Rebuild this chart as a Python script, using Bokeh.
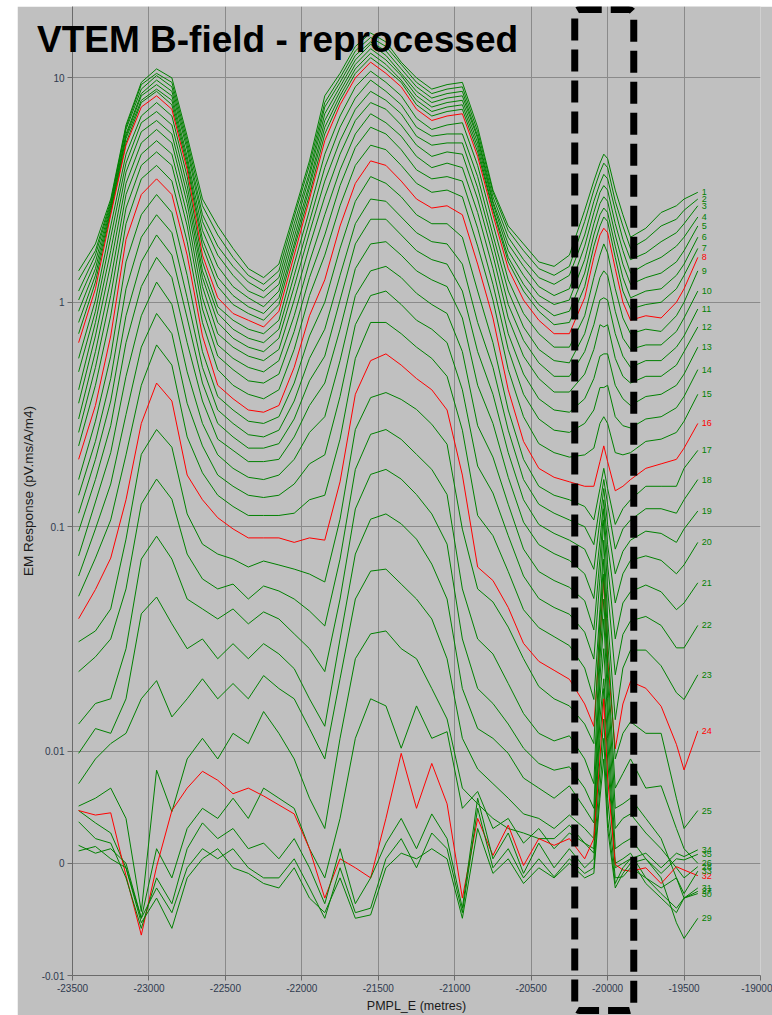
import numpy as np
from bokeh.plotting import figure
from bokeh.layouts import column
from bokeh.models import Range1d, FixedTicker, BoxAnnotation, ColumnDataSource, Div
from bokeh.core.properties import value
from bokeh.embed import file_html
from bokeh.resources import INLINE

# Easting of the sampled stations (PMPL_E, metres)
X_M = [-23460, -23350, -23250, -23150, -23050, -22950, -22850, -22750, -22650, -22550,
       -22450, -22350, -22250, -22150, -22050, -21950, -21850, -21750, -21650, -21550,
       -21450, -21350, -21250, -21150, -21050, -20950, -20850, -20750, -20650, -20550,
       -20450, -20350, -20250, -20150, -20090, -20050, -20025, -20000, -19950, -19900,
       -19850, -19750, -19650, -19550, -19500, -19410]

# Channels 1-24: log10 of EM response (pV.ms/A/m4)
LOG_CH01 = [0.14, 0.26, 0.46, 0.79, 0.98, 1.04, 1.00, 0.74, 0.46, 0.34, 0.24, 0.15, 0.11, 0.17, 0.40, 0.63, 0.92, 1.02, 1.14, 1.20, 1.16, 1.07, 1.00, 0.95, 0.97, 0.98, 0.78, 0.50, 0.34, 0.26, 0.18, 0.16, 0.21, 0.41, 0.54, 0.62, 0.66, 0.64, 0.50, 0.39, 0.29, 0.33, 0.40, 0.43, 0.46, 0.49]
LOG_CH02 = [0.10, 0.23, 0.45, 0.78, 0.97, 1.02, 0.98, 0.72, 0.43, 0.30, 0.20, 0.12, 0.08, 0.14, 0.38, 0.61, 0.89, 1.00, 1.12, 1.18, 1.14, 1.06, 0.98, 0.93, 0.95, 0.96, 0.76, 0.49, 0.32, 0.23, 0.15, 0.12, 0.16, 0.36, 0.50, 0.58, 0.62, 0.60, 0.45, 0.34, 0.24, 0.28, 0.34, 0.37, 0.41, 0.46]
LOG_CH03 = [0.05, 0.21, 0.44, 0.77, 0.95, 1.01, 0.96, 0.70, 0.39, 0.25, 0.16, 0.09, 0.05, 0.11, 0.35, 0.58, 0.87, 0.98, 1.10, 1.16, 1.12, 1.04, 0.96, 0.91, 0.93, 0.94, 0.74, 0.47, 0.29, 0.19, 0.11, 0.08, 0.12, 0.30, 0.45, 0.53, 0.57, 0.55, 0.41, 0.28, 0.19, 0.22, 0.27, 0.31, 0.35, 0.43]
LOG_CH04 = [0.01, 0.18, 0.43, 0.75, 0.93, 0.99, 0.94, 0.68, 0.36, 0.21, 0.12, 0.05, 0.02, 0.08, 0.32, 0.56, 0.84, 0.96, 1.08, 1.15, 1.10, 1.02, 0.94, 0.89, 0.91, 0.92, 0.73, 0.45, 0.26, 0.16, 0.07, 0.03, 0.06, 0.25, 0.40, 0.49, 0.52, 0.50, 0.35, 0.23, 0.13, 0.17, 0.20, 0.25, 0.29, 0.38]
LOG_CH05 = [-0.04, 0.15, 0.42, 0.74, 0.92, 0.97, 0.92, 0.65, 0.32, 0.16, 0.07, 0.02, -0.02, 0.05, 0.29, 0.53, 0.81, 0.94, 1.06, 1.13, 1.08, 1.01, 0.92, 0.87, 0.89, 0.90, 0.71, 0.44, 0.23, 0.12, 0.03, -0.01, 0.01, 0.19, 0.35, 0.44, 0.47, 0.45, 0.30, 0.17, 0.08, 0.11, 0.13, 0.18, 0.23, 0.34]
LOG_CH06 = [-0.09, 0.12, 0.41, 0.73, 0.90, 0.95, 0.90, 0.63, 0.28, 0.11, 0.03, -0.02, -0.05, 0.02, 0.26, 0.51, 0.78, 0.92, 1.04, 1.11, 1.06, 0.99, 0.90, 0.85, 0.87, 0.88, 0.69, 0.42, 0.20, 0.08, -0.01, -0.06, -0.04, 0.13, 0.30, 0.39, 0.42, 0.40, 0.25, 0.11, 0.02, 0.05, 0.06, 0.12, 0.17, 0.29]
LOG_CH07 = [-0.14, 0.09, 0.40, 0.71, 0.89, 0.94, 0.88, 0.61, 0.25, 0.07, -0.01, -0.05, -0.08, -0.01, 0.24, 0.48, 0.75, 0.90, 1.02, 1.09, 1.04, 0.98, 0.88, 0.83, 0.85, 0.86, 0.67, 0.41, 0.18, 0.05, -0.04, -0.10, -0.09, 0.07, 0.25, 0.34, 0.38, 0.36, 0.20, 0.05, -0.03, -0.01, 0.00, 0.06, 0.12, 0.24]
LOG_CH08 = [-0.18, 0.06, 0.39, 0.70, 0.87, 0.92, 0.86, 0.59, 0.21, 0.02, -0.05, -0.08, -0.11, -0.04, 0.21, 0.46, 0.72, 0.88, 1.00, 1.07, 1.02, 0.96, 0.86, 0.81, 0.83, 0.84, 0.65, 0.39, 0.15, 0.01, -0.08, -0.14, -0.14, 0.02, 0.20, 0.30, 0.33, 0.31, 0.15, 0.00, -0.08, -0.06, -0.07, 0.00, 0.06, 0.20]
LOG_CH09 = [-0.25, 0.01, 0.34, 0.66, 0.83, 0.89, 0.83, 0.56, 0.18, -0.02, -0.08, -0.12, -0.14, -0.08, 0.17, 0.41, 0.66, 0.83, 0.96, 1.03, 0.98, 0.92, 0.82, 0.77, 0.79, 0.80, 0.61, 0.35, 0.10, -0.05, -0.14, -0.20, -0.20, -0.06, 0.11, 0.21, 0.26, 0.22, 0.06, -0.07, -0.14, -0.12, -0.13, -0.06, 0.00, 0.14]
LOG_CH10 = [-0.31, -0.04, 0.29, 0.62, 0.80, 0.85, 0.79, 0.52, 0.14, -0.05, -0.12, -0.16, -0.18, -0.12, 0.12, 0.36, 0.60, 0.78, 0.91, 0.99, 0.94, 0.88, 0.78, 0.74, 0.75, 0.75, 0.56, 0.30, 0.05, -0.11, -0.21, -0.26, -0.27, -0.14, 0.01, 0.11, 0.14, 0.12, -0.04, -0.16, -0.21, -0.19, -0.19, -0.13, -0.07, 0.05]
LOG_CH11 = [-0.39, -0.09, 0.23, 0.58, 0.76, 0.81, 0.75, 0.48, 0.11, -0.09, -0.16, -0.20, -0.22, -0.16, 0.07, 0.31, 0.54, 0.72, 0.86, 0.94, 0.90, 0.84, 0.74, 0.70, 0.71, 0.71, 0.51, 0.26, -0.01, -0.17, -0.27, -0.33, -0.33, -0.22, -0.10, 0.01, 0.02, 0.01, -0.14, -0.24, -0.29, -0.26, -0.26, -0.20, -0.15, -0.03]
LOG_CH12 = [-0.45, -0.15, 0.17, 0.53, 0.71, 0.77, 0.71, 0.44, 0.07, -0.14, -0.20, -0.24, -0.26, -0.21, 0.01, 0.25, 0.47, 0.66, 0.81, 0.89, 0.86, 0.79, 0.70, 0.65, 0.67, 0.66, 0.46, 0.21, -0.07, -0.24, -0.34, -0.40, -0.40, -0.32, -0.21, -0.10, -0.11, -0.10, -0.25, -0.33, -0.36, -0.33, -0.33, -0.28, -0.22, -0.11]
LOG_CH13 = [-0.52, -0.22, 0.10, 0.48, 0.66, 0.72, 0.66, 0.39, 0.02, -0.19, -0.25, -0.29, -0.31, -0.26, -0.06, 0.18, 0.39, 0.59, 0.75, 0.84, 0.80, 0.74, 0.65, 0.60, 0.62, 0.60, 0.40, 0.15, -0.14, -0.32, -0.43, -0.48, -0.49, -0.43, -0.34, -0.24, -0.23, -0.23, -0.37, -0.43, -0.46, -0.42, -0.41, -0.37, -0.32, -0.20]
LOG_CH14 = [-0.58, -0.29, 0.03, 0.42, 0.61, 0.67, 0.61, 0.34, -0.03, -0.24, -0.30, -0.35, -0.36, -0.32, -0.13, 0.11, 0.30, 0.52, 0.69, 0.78, 0.75, 0.68, 0.59, 0.55, 0.56, 0.54, 0.33, 0.08, -0.21, -0.41, -0.52, -0.57, -0.58, -0.54, -0.48, -0.38, -0.38, -0.37, -0.51, -0.55, -0.56, -0.52, -0.51, -0.47, -0.42, -0.30]
LOG_CH15 = [-0.64, -0.37, -0.06, 0.35, 0.55, 0.61, 0.54, 0.27, -0.09, -0.30, -0.37, -0.41, -0.43, -0.39, -0.21, 0.03, 0.21, 0.43, 0.61, 0.70, 0.68, 0.61, 0.53, 0.49, 0.50, 0.47, 0.25, 0.01, -0.30, -0.51, -0.63, -0.67, -0.69, -0.68, -0.65, -0.54, -0.51, -0.54, -0.67, -0.68, -0.67, -0.62, -0.61, -0.58, -0.53, -0.41]
LOG_CH16 = [-0.70, -0.46, -0.15, 0.28, 0.48, 0.55, 0.48, 0.21, -0.15, -0.37, -0.43, -0.48, -0.49, -0.46, -0.29, -0.06, 0.10, 0.34, 0.53, 0.63, 0.61, 0.54, 0.46, 0.42, 0.43, 0.39, 0.17, -0.07, -0.39, -0.62, -0.74, -0.78, -0.80, -0.82, -0.82, -0.71, -0.64, -0.71, -0.84, -0.82, -0.79, -0.74, -0.72, -0.70, -0.65, -0.54]
LOG_CH17 = [-0.79, -0.53, -0.24, 0.18, 0.39, 0.48, 0.40, 0.12, -0.22, -0.42, -0.48, -0.53, -0.54, -0.51, -0.36, -0.15, 0.00, 0.24, 0.45, 0.56, 0.53, 0.47, 0.39, 0.35, 0.35, 0.29, 0.05, -0.18, -0.48, -0.70, -0.82, -0.86, -0.88, -0.91, -0.97, -0.83, -0.74, -0.83, -0.99, -0.92, -0.88, -0.82, -0.82, -0.82, -0.74, -0.66]
LOG_CH18 = [-0.86, -0.62, -0.34, 0.06, 0.29, 0.39, 0.31, 0.02, -0.29, -0.48, -0.54, -0.59, -0.60, -0.57, -0.44, -0.25, -0.12, 0.12, 0.35, 0.46, 0.45, 0.38, 0.31, 0.27, 0.26, 0.17, -0.09, -0.29, -0.57, -0.79, -0.90, -0.94, -0.97, -1.00, -1.08, -0.90, -0.79, -0.90, -1.10, -1.01, -0.97, -0.92, -0.92, -0.94, -0.88, -0.79]
LOG_CH19 = [-0.94, -0.70, -0.44, -0.06, 0.18, 0.30, 0.21, -0.07, -0.36, -0.54, -0.60, -0.65, -0.65, -0.63, -0.52, -0.35, -0.24, 0.01, 0.26, 0.37, 0.37, 0.30, 0.23, 0.19, 0.17, 0.05, -0.22, -0.41, -0.67, -0.88, -0.99, -1.03, -1.06, -1.10, -1.19, -0.97, -0.83, -0.99, -1.21, -1.11, -1.06, -1.02, -1.03, -1.07, -1.01, -0.93]
LOG_CH20 = [-1.02, -0.79, -0.55, -0.18, 0.07, 0.20, 0.11, -0.18, -0.44, -0.61, -0.66, -0.71, -0.71, -0.70, -0.60, -0.46, -0.36, -0.12, 0.15, 0.26, 0.27, 0.21, 0.14, 0.10, 0.07, -0.07, -0.37, -0.54, -0.78, -0.98, -1.08, -1.12, -1.15, -1.21, -1.32, -1.06, -0.88, -1.08, -1.34, -1.21, -1.15, -1.13, -1.15, -1.21, -1.17, -1.07]
LOG_CH21 = [-1.13, -0.89, -0.67, -0.33, -0.06, 0.09, -0.01, -0.31, -0.54, -0.68, -0.74, -0.78, -0.79, -0.77, -0.70, -0.58, -0.51, -0.26, 0.03, 0.14, 0.16, 0.11, 0.04, -0.01, -0.05, -0.22, -0.55, -0.69, -0.90, -1.10, -1.20, -1.24, -1.27, -1.33, -1.46, -1.14, -0.92, -1.17, -1.50, -1.34, -1.29, -1.26, -1.29, -1.37, -1.34, -1.25]
LOG_CH22 = [-1.22, -1.01, -0.81, -0.50, -0.20, -0.05, -0.14, -0.45, -0.64, -0.77, -0.82, -0.86, -0.87, -0.86, -0.81, -0.72, -0.68, -0.42, -0.10, 0.03, 0.05, -0.01, -0.08, -0.12, -0.18, -0.39, -0.73, -0.85, -1.04, -1.22, -1.32, -1.36, -1.39, -1.47, -1.59, -1.23, -0.97, -1.28, -1.66, -1.48, -1.42, -1.40, -1.44, -1.54, -1.54, -1.44]
LOG_CH23 = [-1.31, -1.14, -0.97, -0.68, -0.37, -0.19, -0.28, -0.60, -0.76, -0.86, -0.91, -0.95, -0.95, -0.95, -0.94, -0.88, -0.86, -0.61, -0.25, -0.09, -0.09, -0.14, -0.20, -0.25, -0.33, -0.57, -0.95, -1.04, -1.20, -1.37, -1.45, -1.49, -1.53, -1.63, -1.77, -1.37, -1.06, -1.41, -1.86, -1.63, -1.55, -1.55, -1.62, -1.74, -1.77, -1.66]
LOG_CH24 = [-1.41, -1.28, -1.14, -0.88, -0.54, -0.36, -0.44, -0.77, -0.88, -0.96, -1.01, -1.05, -1.05, -1.05, -1.07, -1.05, -1.06, -0.80, -0.41, -0.26, -0.23, -0.28, -0.34, -0.39, -0.48, -0.77, -1.18, -1.24, -1.36, -1.52, -1.60, -1.64, -1.68, -1.79, -1.89, -1.50, -1.23, -1.59, -1.99, -1.79, -1.69, -1.72, -1.80, -1.97, -2.08, -1.91]

# Channels 25-35: EM response (pV.ms/A/m4), linear values
CH25 = [0.0307, 0.0343, 0.043, 0.088, 0.21, 0.271, 0.226, 0.114, 0.0836, 0.0755, 0.0717, 0.0661, 0.0703, 0.0675, 0.0647, 0.0615, 0.0567, 0.108, 0.271, 0.376, 0.396, 0.369, 0.333, 0.286, 0.233, 0.0975, 0.0528, 0.0462, 0.0357, 0.0258, 0.0194, 0.0171, 0.0159, 0.0132, 0.0108, 0.0388, 0.0717, 0.0316, 0.0093, 0.012, 0.0135, 0.012, 0.012, 0.0058, 0.0031, 0.0047]
CH26 = [0.0226, 0.0263, 0.0316, 0.0528, 0.126, 0.163, 0.1325, 0.0755, 0.0585, 0.0528, 0.0555, 0.0476, 0.0544, 0.0517, 0.0476, 0.0421, 0.0361, 0.0717, 0.18, 0.258, 0.271, 0.245, 0.21, 0.18, 0.139, 0.0528, 0.0316, 0.0271, 0.02, 0.0147, 0.012, 0.0111, 0.0117, 0.0093, 0.0071, 0.0316, 0.0615, 0.0245, 0.0067, 0.008, 0.0093, 0.0067, 0.0069, 0.0031, 0.0013, 0.0]
CH27 = [0.0132, 0.0163, 0.0171, 0.0286, 0.0717, 0.0907, 0.0717, 0.0476, 0.043, 0.0388, 0.043, 0.0369, 0.0417, 0.0388, 0.0333, 0.0286, 0.0226, 0.0476, 0.12, 0.171, 0.18, 0.163, 0.139, 0.114, 0.0836, 0.0316, 0.019, 0.0163, 0.0132, 0.0103, 0.0089, 0.0083, 0.0086, 0.0067, 0.0049, 0.0258, 0.0476, 0.021, 0.0049, 0.0053, 0.0058, 0.004, 0.0022, -0.0013, -0.0031, -0.0025]
CH28 = [0.0098, 0.0126, 0.012, 0.0171, 0.0409, 0.0486, 0.0369, 0.0286, 0.0316, 0.0258, 0.0301, 0.0258, 0.0301, 0.0271, 0.0233, 0.0171, 0.0129, 0.0316, 0.0755, 0.108, 0.114, 0.103, 0.088, 0.0681, 0.0476, 0.019, 0.0126, 0.0114, 0.0098, 0.0076, 0.0067, 0.0058, 0.0069, 0.0049, 0.0036, 0.021, 0.0388, 0.0171, 0.0031, 0.004, 0.0044, 0.0027, 0.0013, -0.0004, -0.0013, -0.0003]
CH29 = [0.0071, 0.0093, 0.0108, 0.012, 0.0171, 0.0206, 0.0142, 0.0171, 0.021, 0.0171, 0.02, 0.0171, 0.0217, 0.019, 0.0171, 0.0126, 0.0093, 0.021, 0.0476, 0.0634, 0.0647, 0.0555, 0.0476, 0.0388, 0.0258, 0.0114, 0.0084, 0.0071, 0.0058, 0.0044, 0.004, 0.0031, 0.0043, 0.0031, 0.0022, 0.0171, 0.0286, 0.0139, 0.0013, 0.0018, 0.0022, 0.0004, -0.0013, -0.0053, -0.0067, -0.0049]
CH30 = [0.0051, 0.0058, 0.0067, 0.004, -0.0043, 0.0083, 0.0046, 0.0093, 0.0114, 0.0093, 0.012, 0.0108, 0.015, 0.012, 0.0093, 0.0058, 0.0031, 0.0114, 0.0258, 0.0333, 0.0343, 0.0286, 0.0258, 0.019, 0.0139, 0.0067, 0.0053, 0.004, 0.0031, 0.0027, 0.0022, 0.0022, 0.0034, 0.0018, 0.0009, 0.0139, 0.021, 0.0114, 0.0, 0.0004, 0.0009, -0.0013, -0.0027, -0.004, -0.0031, -0.0027]
CH31 = [0.0047, 0.0036, 0.0027, -0.0004, -0.0049, 0.0013, -0.0013, 0.0031, 0.0049, 0.004, 0.0058, 0.004, 0.0067, 0.0058, 0.0049, 0.0013, -0.0013, 0.004, 0.0114, 0.0171, 0.0159, 0.0103, 0.0159, 0.0114, 0.0122, 0.0049, 0.0064, 0.0031, 0.004, 0.0018, 0.0031, 0.0013, 0.0027, 0.0018, 0.0013, 0.0114, 0.019, 0.0093, -0.0004, 0.0, 0.0004, -0.0018, -0.0031, -0.0044, -0.0031, -0.0022]
CH32 = [0.0047, 0.0043, 0.0045, -0.0011, -0.0064, -0.0003, 0.0047, 0.0067, 0.0082, 0.0074, 0.0062, 0.0067, 0.006, 0.0052, 0.0044, 0.0013, -0.0031, 0.0004, -0.0004, -0.0013, 0.004, 0.0098, 0.0049, 0.0089, 0.0053, -0.0031, 0.004, 0.0007, 0.0034, -0.0002, 0.0022, 0.0016, 0.0022, 0.0004, 0.0022, 0.0093, 0.0171, 0.0076, -0.0001, -0.0006, -0.0007, -0.0004, -0.0018, -0.0003, -0.0006, -0.0011]
CH33 = [0.0037, 0.0022, 0.0018, -0.0013, -0.0058, -0.0013, -0.0036, 0.0013, 0.0036, 0.0022, 0.0031, 0.0013, 0.0018, 0.0004, 0.0022, -0.0004, -0.0036, 0.0013, -0.0036, -0.0013, 0.0018, 0.004, 0.0013, 0.0044, 0.0022, -0.004, 0.0058, 0.0004, 0.0027, -0.0009, 0.0018, -0.0004, 0.0013, -0.0004, 0.0004, 0.0084, 0.0139, 0.0058, -0.0013, -0.0012, -0.0004, -0.0013, -0.0022, -0.0013, -0.0027, -0.0007]
CH34 = [0.0016, 0.0009, 0.0013, 0.0, -0.0049, -0.0022, -0.0044, -0.0004, 0.0013, 0.0004, 0.0013, -0.0004, -0.0013, -0.0013, 0.0004, -0.0022, -0.0049, -0.0004, -0.0044, -0.004, 0.0004, 0.0022, -0.0004, 0.0027, 0.0013, -0.0044, 0.0049, -0.0004, 0.0013, -0.0013, 0.0004, -0.0012, 0.0004, -0.0009, -0.0004, 0.0067, 0.0114, 0.004, -0.0018, -0.0004, 0.0004, 0.0009, -0.0004, 0.0009, 0.0006, 0.0012]
CH35 = [0.0011, 0.0015, 0.0004, -0.0004, -0.0053, -0.0031, -0.0058, -0.0013, 0.0004, 0.0013, -0.0004, -0.0009, -0.0018, -0.0022, -0.0004, -0.0031, -0.0044, -0.0013, -0.0049, -0.0046, -0.0004, 0.0009, 0.0004, 0.0013, 0.0004, -0.0049, 0.0031, -0.0009, 0.0004, -0.0018, -0.0004, -0.0013, 0.0, -0.0013, -0.0009, 0.0058, 0.0093, 0.0031, -0.0022, -0.0009, 0.0, 0.0004, -0.0009, 0.0004, 0.0003, 0.0008]

X_TICKS = [-23500, -23000, -22500, -22000, -21500, -21000, -20500, -20000, -19500, -19000]
Y_TICK_VALUES = [-0.01, 0.0, 0.01, 0.1, 1.0, 10.0]
Y_TICK_LABELS = ["-0.01", "0", "0.01", "0.1", "1", "10"]
RED_CHANNELS = [8, 16, 24, 32]
TITLE = "VTEM B-field - reprocessed"
# highlighted window (PMPL_E metres) around the anomaly
BOX_E_WEST, BOX_E_EAST = -20215, -19829

LOG_CHANNELS = [LOG_CH01, LOG_CH02, LOG_CH03, LOG_CH04, LOG_CH05, LOG_CH06, LOG_CH07, LOG_CH08,
                LOG_CH09, LOG_CH10, LOG_CH11, LOG_CH12, LOG_CH13, LOG_CH14, LOG_CH15, LOG_CH16,
                LOG_CH17, LOG_CH18, LOG_CH19, LOG_CH20, LOG_CH21, LOG_CH22, LOG_CH23, LOG_CH24]
LIN_CHANNELS = [CH25, CH26, CH27, CH28, CH29, CH30, CH31, CH32, CH33, CH34, CH35]

LIN = 0.01  # linear threshold of the symmetric-log axis


def symlog(v):
    v = np.asarray(v, dtype=float)
    a = np.abs(v)
    big = np.sign(v) * (np.log10(np.maximum(a, 1e-12)) - np.log10(LIN) + 0.5)
    small = 0.5 * v / LIN
    return np.where(a >= LIN, big, small)


series = [10.0 ** np.asarray(c) for c in LOG_CHANNELS] + [np.asarray(c, float) for c in LIN_CHANNELS]

GREEN = "#008000"
RED = "#ff0000"
BG = "#c0c0c0"

# layout geometry (pixels)
W, H = 755, 1009
BL, BR, BT, BB = 54, 12, 0, 38
X0, X1 = -23500, -19000
Y0, Y1 = -0.5, 3.818

p = figure(width=W, height=H,
           x_range=Range1d(X0, X1), y_range=Range1d(Y0, Y1),
           output_backend="svg", toolbar_location=None,
           min_border_left=BL, min_border_right=BR, min_border_top=BT, min_border_bottom=BB,
           background_fill_color=BG, border_fill_color=BG, outline_line_color=None)

# axes
p.xaxis.ticker = FixedTicker(ticks=X_TICKS)
p.xaxis.major_label_overrides = {t: str(t) for t in X_TICKS}
ytick_pos = [float(t) for t in symlog(Y_TICK_VALUES)]
p.yaxis.ticker = FixedTicker(ticks=ytick_pos)
p.yaxis.major_label_overrides = {t: s for t, s in zip(ytick_pos, Y_TICK_LABELS)}

for ax in (p.xaxis[0], p.yaxis[0]):
    ax.axis_line_color = "#6a6a6a"
    ax.major_tick_line_color = "#6a6a6a"
    ax.major_tick_out = 5
    ax.major_tick_in = 0
    ax.minor_tick_line_color = None
    ax.major_label_text_font = "Liberation Sans"
    ax.major_label_text_font_size = "10px"
    ax.major_label_text_color = "#2f3a4f"
    ax.major_label_standoff = 3
    ax.axis_label_text_font = "Liberation Sans"
    ax.axis_label_text_font_style = "normal"
    ax.axis_label_text_color = "#1a1a1a"

p.xaxis.axis_label = "PMPL_E (metres)"
p.xaxis.axis_label_text_font_size = "12.5px"
p.xaxis.axis_label_standoff = 4
p.yaxis.axis_label = "EM Response (pV.ms/A/m4)"
p.yaxis.axis_label_text_font_size = "13.5px"
p.yaxis.axis_label_standoff = 3

p.xgrid.grid_line_color = "#8a8a8a"
p.ygrid.grid_line_color = "#8a8a8a"

# decay channels
lab_x, lab_y, lab_t, lab_c = [], [], [], []
for i, vals in enumerate(series, start=1):
    col = RED if i in RED_CHANNELS else GREEN
    ys = symlog(vals)
    p.line(x=X_M, y=ys, line_color=col, line_width=1)
    lab_x.append(X_M[-1])
    lab_y.append(float(ys[-1]))
    lab_t.append(str(i))
    lab_c.append(col)

src = ColumnDataSource(dict(x=lab_x, y=lab_y, text=lab_t, color=lab_c))
p.text(x="x", y="y", text="text", text_color="color", source=src,
       text_font=value("Liberation Sans"), text_font_size="9px",
       text_baseline="middle", text_align="left", x_offset=4)

# transparent overlay: its frame is aligned horizontally with the main frame by the
# column layout, and spans the full height, so the dashed window can run past the x-axis
fh = H - BT - BB
sy = (Y1 - Y0) / fh
ov = figure(width=W, height=H,
            x_range=Range1d(X0, X1),
            y_range=Range1d(Y0 - BB * sy, Y1 + BT * sy),
            output_backend="svg", toolbar_location=None,
            x_axis_location=None, y_axis_location=None, min_border=0,
            background_fill_alpha=0, border_fill_alpha=0, outline_line_color=None,
            margin=(-H, 0, 0, 0))
ov.grid.visible = False

box = BoxAnnotation(left=BOX_E_WEST, right=BOX_E_EAST,
                    top=Y1 - 3 * sy, bottom=Y0 - 33 * sy,
                    fill_color=None, fill_alpha=0, line_color="black", line_alpha=1.0,
                    line_width=7, line_dash="22 9", border_radius=5)
ov.add_layout(box)

# title, overlapping the top-left of the plot
title = Div(text=TITLE, width=600, height=45,
            styles={"font-family": "'Liberation Sans', Arial, sans-serif",
                    "font-size": "37px", "font-weight": "bold", "color": "#000000",
                    "line-height": "37px", "white-space": "nowrap"},
            margin=(-994, 0, 949, 20))

layout = column(p, ov, title, margin=(6, 0, 0, 17), spacing=0)

open("out.html", "w").write(file_html(layout, INLINE))
